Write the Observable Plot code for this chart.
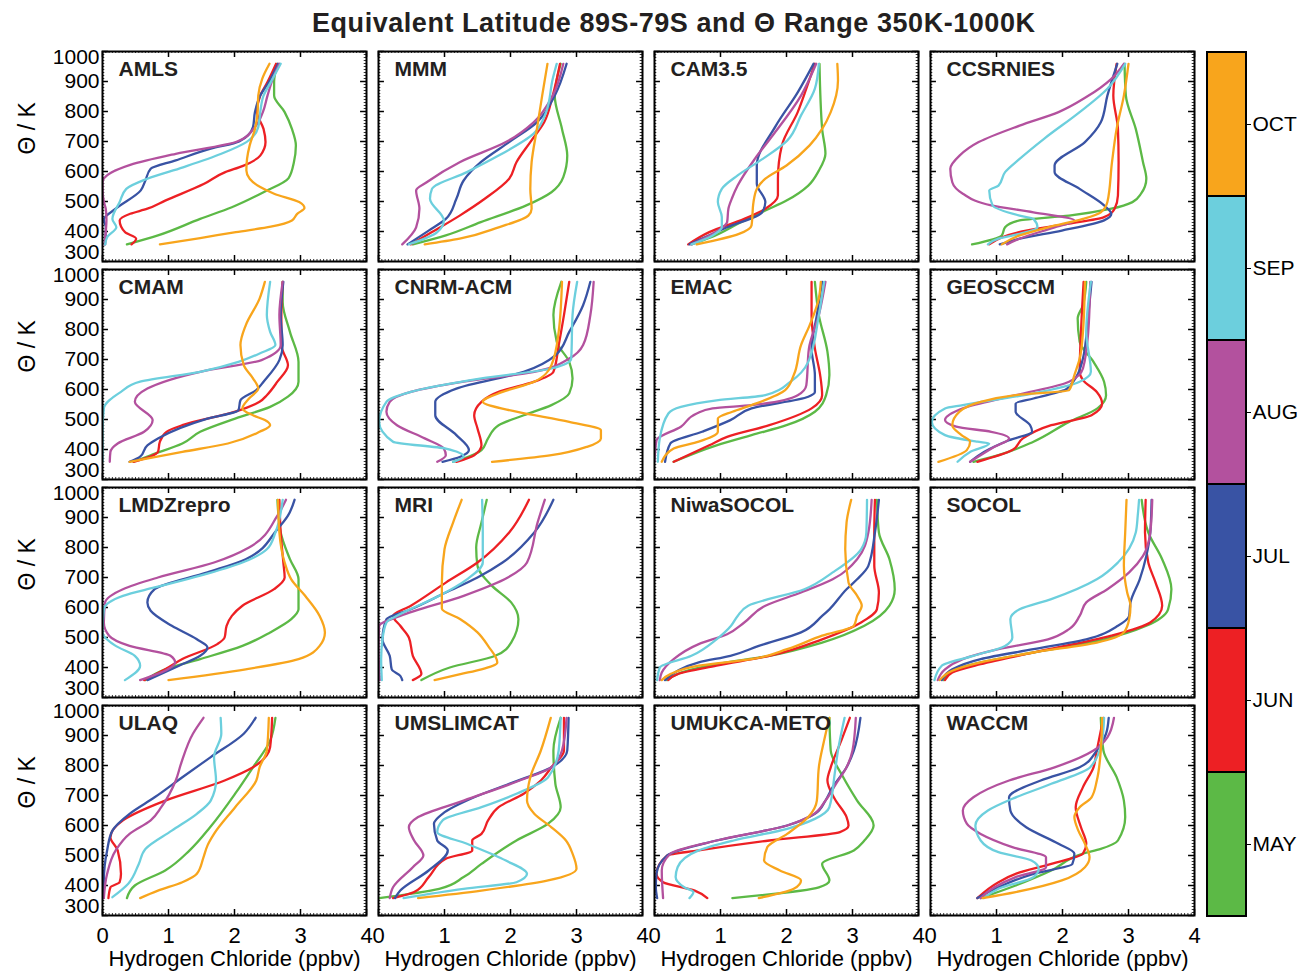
<!DOCTYPE html>
<html><head><meta charset="utf-8">
<script src="https://cdn.jsdelivr.net/npm/d3@7"></script>
<script src="https://cdn.jsdelivr.net/npm/@observablehq/plot@0.6"></script>
<style>
body{margin:0;background:#fff;font-family:"Liberation Sans",Arial,sans-serif;}
#root{position:relative;width:1302px;height:972px;overflow:hidden;background:#fff;}
#title{position:absolute;left:312px;top:8px;white-space:nowrap;font-weight:bold;font-size:27px;color:#231f20;}
.panel{position:absolute;}
</style></head><body><div id="root"><div id="title">Equivalent Latitude 89S-79S and Θ Range 350K-1000K</div></div>
<script>
const months = ["MAY","JUN","JUL","AUG","SEP","OCT"];
const monthColors = ["#5cb946","#ed2024","#3953a4","#b3519e","#6ccfdd","#f8a51c"];
const panelNames = ["AMLS","MMM","CAM3.5","CCSRNIES","CMAM","CNRM-ACM","EMAC","GEOSCCM","LMDZrepro","MRI","NiwaSOCOL","SOCOL","ULAQ","UMSLIMCAT","UMUKCA-METO","WACCM"];
const xTicks = [0,1,2,3,4];
const yTicks = [300,400,500,600,700,800,900,1000];

// each series: [HCl ppbv, theta K]
const AMLS = {
 OCT:[[2.53,959],[2.42,909],[2.36,853],[2.35,798],[2.31,742],[2.23,687],[2.19,642],[2.18,603],[2.23,576],[2.39,548],[2.60,526],[2.98,498],[3.06,478],[2.95,459],[2.87,437],[2.55,416],[2.02,398],[1.48,378],[0.87,357]],
 MAY:[[2.65,959],[2.6,898],[2.6,853],[2.76,798],[2.87,742],[2.93,687],[2.9,631],[2.82,578],[2.44,531],[1.96,481],[1.48,442],[0.84,387],[0.37,357]],
 JUN:[[2.63,959],[2.5,898],[2.39,853],[2.34,798],[2.44,742],[2.47,698],[2.39,653],[2.12,618],[1.86,598],[1.54,559],[0.95,503],[0.68,476],[0.42,459],[0.26,437],[0.34,398],[0.51,376],[0.44,357]],
 JUL:[[2.66,959],[2.52,898],[2.39,853],[2.31,798],[2.28,748],[2.07,700],[1.64,676],[1.11,637],[0.73,609],[0.65,570],[0.58,537],[0.2,476],[0.02,440],[0.05,414],[0.04,357]],
 AUG:[[2.68,959],[2.58,909],[2.5,853],[2.43,798],[2.31,748],[2.04,700],[1.11,659],[0.42,622],[0.0,564],[0.0,540],[0.02,500],[0.05,475],[0.06,440],[0.05,400],[0.03,357]],
 SEP:[[2.7,959],[2.55,898],[2.44,853],[2.39,798],[2.36,748],[2.18,698],[1.8,659],[1.22,614],[0.68,576],[0.36,542],[0.26,498],[0.15,442],[0.21,414],[0.07,381],[0.04,357]]
};
const MMM = {
 OCT:[[2.56,959],[2.48,853],[2.4,742],[2.32,631],[2.3,542],[2.32,476],[2.27,453],[1.82,414],[1.23,376],[0.7,357]],
 MAY:[[2.76,959],[2.67,853],[2.78,742],[2.86,653],[2.8,581],[2.62,531],[2.24,487],[1.55,431],[1.02,387],[0.52,357]],
 JUN:[[2.75,959],[2.64,853],[2.51,764],[2.3,698],[2.09,631],[1.98,576],[1.61,509],[1.23,453],[0.81,398],[0.49,357]],
 JUL:[[2.85,959],[2.67,853],[2.4,764],[1.98,698],[1.55,631],[1.29,570],[1.18,509],[1.02,442],[0.76,403],[0.44,357]],
 AUG:[[2.8,959],[2.64,853],[2.35,764],[1.93,698],[1.23,631],[0.73,564],[0.57,537],[0.62,476],[0.57,414],[0.36,357]],
 SEP:[[2.7,959],[2.64,909],[2.54,798],[2.35,726],[1.82,653],[1.34,598],[0.81,542],[0.78,509],[0.99,437],[0.89,398],[0.46,357]]
};
const CAM35 = {
 OCT:[[2.77,959],[2.78,903],[2.67,798],[2.54,742],[2.35,687],[2.0,620],[1.68,576],[1.55,542],[1.5,498],[1.47,420],[1.28,392],[0.64,357]],
 MAY:[[2.5,959],[2.54,742],[2.59,659],[2.49,603],[2.33,553],[2.0,503],[1.68,470],[1.31,431],[0.86,381],[0.56,357]],
 JUN:[[2.43,959],[2.3,876],[2.17,798],[1.93,687],[1.87,576],[1.87,520],[1.68,476],[1.36,442],[0.83,398],[0.51,357]],
 JUL:[[2.41,959],[2.17,864],[1.84,753],[1.55,620],[1.55,559],[1.68,498],[1.63,464],[1.1,414],[0.53,357]],
 AUG:[[2.45,959],[2.22,853],[1.79,720],[1.52,642],[1.26,553],[1.18,514],[1.12,476],[1.1,431],[0.96,403],[0.56,357]],
 SEP:[[2.49,959],[2.43,876],[2.22,787],[2.01,703],[1.64,642],[1.26,587],[1.02,542],[0.96,498],[1.02,448],[1.02,414],[0.88,387],[0.56,357]]
};
const CCSRNIES = {
 OCT:[[3.0,959],[2.93,853],[2.82,742],[2.75,631],[2.68,498],[2.58,464],[2.31,442],[1.78,414],[1.35,387],[1.08,357]],
 MAY:[[2.94,959],[2.96,853],[3.11,742],[3.22,631],[3.27,576],[3.19,526],[3.06,498],[2.74,476],[2.1,453],[1.35,437],[1.13,414],[1.08,387],[0.63,357]],
 JUN:[[2.82,959],[2.77,853],[2.84,742],[2.85,631],[2.84,520],[2.79,476],[2.63,448],[2.1,426],[1.45,403],[0.89,357]],
 JUL:[[2.83,959],[2.68,853],[2.58,764],[2.34,698],[1.88,620],[1.88,598],[2.26,542],[2.63,487],[2.74,459],[2.63,437],[1.99,403],[1.35,376],[1.05,357]],
 AUG:[[2.93,959],[2.74,909],[2.36,848],[1.94,798],[1.35,753],[0.73,698],[0.44,653],[0.3,609],[0.33,564],[0.49,526],[0.92,487],[1.56,464],[2.18,437],[1.88,414],[1.35,376],[1.16,357]],
 SEP:[[2.95,959],[2.68,876],[2.26,798],[1.72,709],[1.35,642],[1.13,598],[1.03,553],[0.89,537],[0.94,487],[1.35,453],[1.56,442],[1.62,414],[1.35,392],[1.03,376],[0.87,357]]
};
const CMAM = {
 OCT:[[2.46,959],[2.38,903],[2.17,814],[2.09,748],[2.14,681],[2.28,637],[2.36,603],[2.22,570],[2.12,537],[2.28,514],[2.46,498],[2.54,481],[2.38,459],[1.9,420],[1.21,392],[0.41,359]],
 MAY:[[2.73,959],[2.73,892],[2.84,792],[2.97,692],[2.97,626],[2.81,576],[2.54,542],[2.01,503],[1.48,459],[1.21,420],[0.73,381],[0.47,359]],
 JUN:[[2.73,959],[2.71,848],[2.71,748],[2.81,681],[2.65,626],[2.49,581],[2.38,559],[2.01,526],[1.21,481],[0.97,459],[0.87,426],[0.84,392],[0.47,359]],
 JUL:[[2.74,959],[2.7,848],[2.73,748],[2.68,698],[2.44,626],[2.33,598],[2.09,564],[2.06,531],[1.59,503],[0.84,437],[0.68,414],[0.57,376],[0.41,359]],
 AUG:[[2.73,959],[2.68,848],[2.7,748],[2.41,698],[1.48,659],[0.68,603],[0.49,559],[0.76,498],[0.63,459],[0.23,420],[0.12,392],[0.11,359]],
 SEP:[[2.54,959],[2.49,848],[2.54,792],[2.62,748],[2.38,720],[2.06,692],[1.48,659],[0.57,626],[0.28,592],[0.02,537],[0.0,459],[0.0,359]]
};
const CNRM_ACM = {
 OCT:[[2.78,959],[2.73,792],[2.62,681],[2.36,626],[1.88,592],[1.58,559],[2.09,526],[2.89,492],[3.37,464],[3.37,437],[3.16,409],[2.62,381],[1.72,359]],
 MAY:[[2.77,959],[2.65,848],[2.7,759],[2.89,692],[2.94,637],[2.89,587],[2.62,548],[2.2,514],[1.82,481],[1.66,437],[1.56,398],[1.29,370],[1.13,359]],
 JUN:[[2.89,959],[2.81,848],[2.73,748],[2.65,659],[2.36,626],[1.82,592],[1.56,559],[1.45,514],[1.5,470],[1.56,414],[1.45,381],[1.18,359]],
 JUL:[[3.21,959],[3.1,881],[2.89,792],[2.68,714],[2.2,659],[1.18,603],[0.86,559],[0.86,514],[1.18,448],[1.37,398],[1.24,376],[0.97,359]],
 AUG:[[3.26,959],[3.21,848],[3.1,748],[2.89,703],[2.36,659],[1.29,626],[0.49,592],[0.17,559],[0.12,526],[0.28,481],[0.7,437],[0.99,403],[1.02,381],[0.89,359]],
 SEP:[[3.01,959],[2.94,848],[2.92,703],[2.62,670],[1.56,637],[0.49,592],[0.12,559],[0.01,492],[0.22,426],[1.02,403],[1.29,376],[1.13,359]]
};
const EMAC = {
 OCT:[[2.52,959],[2.49,903],[2.35,814],[2.22,748],[2.11,648],[1.98,598],[1.47,548],[1.18,526],[0.96,503],[0.96,459],[0.67,426],[0.29,403],[0.11,359]],
 MAY:[[2.43,959],[2.49,848],[2.62,726],[2.65,648],[2.6,581],[2.43,526],[2.0,481],[1.47,448],[0.94,414],[0.29,359]],
 JUN:[[2.38,959],[2.38,848],[2.43,737],[2.51,648],[2.54,581],[2.38,537],[1.74,481],[1.1,442],[0.83,414],[0.29,359]],
 JUL:[[2.54,959],[2.46,848],[2.38,737],[2.43,648],[2.43,592],[2.33,576],[1.47,537],[1.15,498],[0.72,459],[0.24,420],[0.16,359]],
 AUG:[[2.59,959],[2.49,848],[2.34,737],[2.3,614],[2.17,581],[1.47,548],[0.88,537],[0.64,520],[0.4,476],[0.03,431],[0.0,359]],
 SEP:[[2.57,959],[2.49,848],[2.33,692],[2.06,626],[1.68,581],[0.94,564],[0.4,542],[0.21,520],[0.08,437],[0.05,359]]
};
const GEOSCCM = {
 OCT:[[2.34,959],[2.31,792],[2.26,703],[2.18,648],[2.1,598],[1.29,581],[0.76,559],[0.44,526],[0.33,481],[0.47,448],[0.6,426],[0.55,398],[0.12,359]],
 MAY:[[2.36,959],[2.31,881],[2.23,837],[2.26,759],[2.47,692],[2.63,626],[2.66,581],[2.53,537],[2.1,492],[1.56,426],[1.03,381],[0.65,359]],
 JUN:[[2.32,959],[2.28,792],[2.26,659],[2.31,631],[2.52,592],[2.6,553],[2.44,514],[1.83,481],[1.4,437],[1.24,398],[0.71,359]],
 JUL:[[2.44,959],[2.39,848],[2.31,703],[2.07,603],[1.56,570],[1.29,553],[1.29,526],[1.51,481],[1.54,459],[1.19,431],[0.81,392],[0.6,359]],
 AUG:[[2.42,959],[2.39,792],[2.31,670],[2.1,626],[1.29,581],[0.49,537],[0.22,498],[0.39,476],[0.92,459],[1.19,437],[0.97,409],[0.6,359]],
 SEP:[[2.43,959],[2.36,792],[2.43,659],[2.26,626],[1.56,587],[0.49,548],[0.22,537],[0.02,492],[0.22,448],[0.71,426],[0.89,420],[0.6,392],[0.41,359]]
};
const LMDZrepro = {
 OCT:[[2.66,959],[2.68,850],[2.76,750],[2.86,694],[3.07,639],[3.29,572],[3.37,517],[3.29,472],[2.97,428],[2.17,394],[1.0,358]],
 MAY:[[2.65,959],[2.7,850],[2.84,761],[2.97,694],[2.97,594],[2.86,561],[2.54,517],[2.12,472],[1.48,428],[0.95,394],[0.65,358]],
 JUN:[[2.68,959],[2.7,850],[2.74,750],[2.76,700],[2.6,661],[2.12,606],[1.96,572],[1.88,539],[1.85,500],[1.74,478],[1.21,428],[0.95,394],[0.63,358]],
 JUL:[[2.91,959],[2.81,906],[2.65,861],[2.17,761],[1.59,717],[0.79,661],[0.68,617],[0.73,589],[1.05,539],[1.43,494],[1.59,467],[1.48,439],[1.16,406],[0.68,358]],
 AUG:[[2.78,959],[2.65,906],[2.22,800],[1.69,750],[0.84,700],[0.31,661],[0.04,617],[0.02,550],[0.1,506],[0.41,472],[1.03,439],[1.1,417],[0.99,394],[0.57,358]],
 SEP:[[2.73,959],[2.62,850],[2.49,794],[2.12,750],[1.48,706],[0.79,667],[0.31,639],[0.02,594],[0.0,517],[0.2,472],[0.49,439],[0.57,406],[0.34,358]]
};
const MRI = {
 OCT:[[1.26,959],[1.13,883],[1.0,794],[0.96,683],[0.96,597],[1.24,561],[1.5,517],[1.66,472],[1.8,417],[1.56,394],[1.24,378],[0.85,358]],
 MAY:[[1.64,959],[1.56,883],[1.48,800],[1.5,739],[1.72,672],[2.01,617],[2.12,561],[2.01,483],[1.77,439],[1.08,400],[0.65,358]],
 JUN:[[2.28,959],[1.98,850],[1.5,750],[1.02,683],[0.49,606],[0.22,572],[0.33,539],[0.46,500],[0.52,439],[0.65,378],[0.52,358]],
 JUL:[[2.65,959],[2.36,850],[1.88,750],[1.5,700],[1.02,650],[0.49,594],[0.12,561],[0.06,494],[0.17,439],[0.2,394],[0.33,372],[0.36,358]],
 AUG:[[2.52,959],[2.41,883],[2.25,750],[1.96,700],[1.29,639],[0.33,572],[0.01,539],[0.0,461],[0.02,358]],
 SEP:[[1.57,959],[1.58,850],[1.58,750],[1.34,694],[0.92,639],[0.33,578],[0.12,550],[0.06,494],[0.04,428],[0.05,358]]
};
const NiwaSOCOL = {
 OCT:[[2.98,959],[2.91,883],[2.89,794],[2.94,683],[3.07,639],[3.14,606],[3.07,572],[3.02,539],[2.54,506],[2.01,461],[1.47,428],[0.67,406],[0.24,378],[0.11,358]],
 MAY:[[3.37,959],[3.4,850],[3.56,761],[3.64,661],[3.56,606],[3.18,539],[2.54,483],[1.74,439],[0.94,411],[0.4,383],[0.19,358]],
 JUN:[[3.34,959],[3.33,850],[3.33,739],[3.4,650],[3.37,594],[3.13,550],[2.54,494],[1.74,439],[0.94,406],[0.35,378],[0.21,358]],
 JUL:[[3.4,959],[3.34,850],[3.24,739],[3.07,694],[2.91,661],[2.65,594],[2.54,572],[2.22,517],[1.58,472],[1.15,439],[0.67,417],[0.35,389],[0.16,358]],
 AUG:[[3.29,959],[3.24,850],[3.07,761],[2.7,694],[2.22,650],[1.68,606],[1.36,550],[1.1,511],[0.67,478],[0.29,428],[0.11,383],[0.08,358]],
 SEP:[[3.22,959],[3.21,850],[3.13,794],[2.7,717],[2.27,661],[1.42,606],[1.26,572],[1.16,539],[0.94,494],[0.56,439],[0.08,400],[0.04,358]]
};
const SOCOL = {
 OCT:[[2.97,959],[2.95,850],[2.93,739],[2.98,650],[3.03,606],[3.01,561],[2.93,517],[2.52,483],[1.56,450],[0.76,417],[0.33,389],[0.14,358]],
 MAY:[[3.2,959],[3.3,850],[3.51,761],[3.65,661],[3.6,594],[3.27,539],[2.63,494],[1.56,450],[0.76,417],[0.28,383],[0.2,358]],
 JUN:[[3.26,959],[3.25,850],[3.3,750],[3.41,683],[3.51,606],[3.33,550],[2.74,506],[1.56,450],[0.76,411],[0.33,383],[0.22,358]],
 JUL:[[3.35,959],[3.33,850],[3.27,772],[3.17,694],[3.03,617],[3.01,572],[2.84,539],[2.36,494],[1.56,461],[0.76,428],[0.33,394],[0.17,358]],
 AUG:[[3.36,959],[3.33,850],[3.22,772],[3.01,717],[2.68,661],[2.36,617],[2.26,572],[2.1,528],[1.78,494],[1.03,461],[0.49,428],[0.22,394],[0.11,358]],
 SEP:[[3.16,959],[3.14,906],[3.11,850],[2.84,750],[2.52,694],[1.83,628],[1.35,594],[1.21,561],[1.24,500],[1.13,472],[0.65,439],[0.17,406],[0.06,358]]
};
const ULAQ = {
 OCT:[[2.52,959],[2.49,850],[2.38,794],[2.33,750],[2.01,661],[1.69,572],[1.59,533],[1.53,494],[1.43,439],[1.21,411],[0.84,383],[0.57,358]],
 MAY:[[2.62,959],[2.54,883],[2.28,794],[2.01,706],[1.63,594],[1.32,517],[0.95,450],[0.49,400],[0.37,358]],
 JUN:[[2.57,959],[2.54,861],[2.28,794],[1.85,750],[0.95,683],[0.31,617],[0.12,561],[0.23,517],[0.28,439],[0.26,411],[0.12,394],[0.09,358]],
 JUL:[[2.32,959],[2.14,906],[1.64,828],[1.21,761],[0.79,694],[0.41,639],[0.15,583],[0.07,517],[0.02,417],[0.02,358]],
 AUG:[[1.53,959],[1.37,906],[1.19,806],[1.11,750],[0.89,661],[0.73,617],[0.41,572],[0.2,517],[0.07,439],[0.02,358]],
 SEP:[[1.79,959],[1.8,906],[1.69,828],[1.72,750],[1.64,683],[1.43,639],[1.05,583],[0.65,522],[0.55,472],[0.39,406],[0.15,361]]
};
const UMSLIMCAT = {
 OCT:[[2.61,959],[2.46,850],[2.3,761],[2.25,683],[2.36,639],[2.62,594],[2.84,550],[2.94,506],[3.0,456],[2.57,417],[1.56,383],[0.6,358]],
 MAY:[[2.76,959],[2.65,850],[2.68,739],[2.76,661],[2.57,606],[2.09,550],[1.56,472],[1.29,428],[0.92,389],[0.01,358]],
 JUN:[[2.81,959],[2.81,850],[2.62,794],[2.46,750],[2.2,706],[1.82,661],[1.66,617],[1.56,572],[1.42,550],[1.42,517],[1.02,489],[0.76,428],[0.54,378],[0.22,358]],
 JUL:[[2.88,959],[2.86,850],[2.62,794],[1.98,739],[1.45,694],[0.97,639],[0.84,606],[0.89,550],[1.05,517],[0.76,450],[0.33,383],[0.25,358]],
 AUG:[[2.85,959],[2.78,850],[2.62,794],[2.14,750],[1.29,683],[0.6,628],[0.46,594],[0.54,550],[0.68,500],[0.52,461],[0.22,394],[0.17,358]],
 SEP:[[2.76,959],[2.73,850],[2.57,761],[2.09,706],[1.56,661],[0.97,617],[0.89,578],[1.34,539],[1.93,483],[2.25,439],[2.09,411],[1.29,389],[0.38,358]]
};
const UMUKCA_METO = {
 OCT:[[2.65,959],[2.57,883],[2.49,794],[2.46,683],[2.33,628],[2.01,572],[1.71,528],[1.66,483],[1.9,450],[2.22,417],[2.11,389],[1.58,358]],
 MAY:[[2.65,959],[2.67,850],[2.86,761],[3.07,683],[3.32,600],[3.18,550],[3.02,517],[2.54,472],[2.65,417],[2.49,394],[1.18,358]],
 JUN:[[2.96,959],[2.83,883],[2.67,794],[2.62,750],[2.73,689],[2.91,628],[2.94,600],[2.81,578],[1.74,550],[0.67,517],[0.19,500],[0.03,439],[0.13,411],[0.61,383],[0.8,358]],
 JUL:[[3.12,959],[3.02,850],[2.91,794],[2.7,728],[2.59,683],[2.43,639],[2.01,600],[0.94,550],[0.19,500],[0.03,439],[0.02,394],[0.04,358]],
 AUG:[[3.05,959],[3.0,850],[2.91,794],[2.75,739],[2.59,683],[2.38,633],[2.01,600],[0.94,550],[0.24,506],[0.11,450],[0.13,358]],
 SEP:[[2.88,959],[2.78,850],[2.73,772],[2.65,661],[2.43,622],[2.01,589],[1.2,550],[0.67,517],[0.35,461],[0.32,428],[0.45,394],[0.59,378],[0.53,358]]
};
const WACCM = {
 OCT:[[2.6,959],[2.58,850],[2.52,750],[2.44,694],[2.26,661],[2.18,628],[2.24,583],[2.34,539],[2.41,494],[2.34,461],[1.99,417],[1.29,378],[0.79,358]],
 MAY:[[2.58,959],[2.62,850],[2.82,761],[2.93,683],[2.95,628],[2.84,550],[2.58,522],[2.31,506],[1.83,450],[1.29,400],[0.76,358]],
 JUN:[[2.62,959],[2.52,850],[2.47,794],[2.31,728],[2.2,661],[2.28,594],[2.36,539],[2.31,506],[1.83,472],[1.29,439],[1.03,411],[0.71,358]],
 JUL:[[2.7,959],[2.66,906],[2.52,850],[2.26,794],[1.67,750],[1.19,694],[1.21,650],[1.45,594],[1.94,539],[2.18,506],[2.15,472],[1.56,439],[1.03,394],[0.71,358]],
 AUG:[[2.78,959],[2.68,894],[2.47,850],[1.88,794],[1.19,750],[0.65,694],[0.49,650],[0.55,606],[0.76,572],[1.24,528],[1.75,494],[1.75,461],[1.29,428],[0.97,394],[0.76,358]],
 SEP:[[2.63,959],[2.6,883],[2.42,794],[1.83,739],[1.24,689],[0.87,650],[0.68,600],[0.76,550],[1.03,511],[1.53,483],[1.64,456],[1.56,428],[1.03,389],[0.81,358]]
};

const panelData = [AMLS, MMM, CAM35, CCSRNIES, CMAM, CNRM_ACM, EMAC, GEOSCCM, LMDZrepro, MRI, NiwaSOCOL, SOCOL, ULAQ, UMSLIMCAT, UMUKCA_METO, WACCM];

const root = document.getElementById("root");
const FONT = "'Liberation Sans', Arial, Helvetica, sans-serif";
const W = 264, H = 210;
const colX = [102, 378, 654, 930];
const rowY = [51, 269, 487, 705];
const minorX = d3.range(0, 4.0001, 0.05);
const minorY = d3.range(300, 1000.001, 10);
const baseStyle = {fontFamily: FONT, fontSize: "22px", background: "transparent", overflow: "visible", color: "#000"};
const fmt = d => String(d);

panelNames.forEach((name, i) => {
  const col = i % 4, row = Math.floor(i / 4);
  const ml = col === 0 ? 102 : 2, mb = row === 3 ? 57 : 2, mt = 2, mr = 4;
  const rows = [];
  months.forEach(m => {
    panelData[i][m].slice().sort((a, b) => a[1] - b[1]).forEach(([v, t]) => rows.push({month: m, v, t}));
  });
  const tick = {stroke: "#000", strokeWidth: 0.8};
  const major = {stroke: "#000", strokeWidth: 1.5};
  const marks = [
    Plot.ruleX(minorX, {y1: 300, y2: 306.7, ...tick}),
    Plot.ruleX(minorX, {y1: 1000, y2: 993.3, ...tick}),
    Plot.ruleY(minorY, {x1: 0, x2: 0.035, ...tick}),
    Plot.ruleY(minorY, {x1: 4, x2: 3.965, ...tick}),
    Plot.ruleX(xTicks, {y1: 300, y2: 320, ...major}),
    Plot.ruleX(xTicks, {y1: 1000, y2: 980, ...major}),
    Plot.ruleY(yTicks, {x1: 0, x2: 0.09, ...major}),
    Plot.ruleY(yTicks, {x1: 4, x2: 3.91, ...major}),
    Plot.line(rows, {x: "v", y: "t", z: "month", stroke: "month", strokeWidth: 2.3, curve: "monotone-y", clip: true}),
    Plot.text([name], {frameAnchor: "top-left", dx: 16, dy: 10, lineAnchor: "top", textAnchor: "start", fontWeight: "bold", fontSize: 21, fill: "#231f20"}),
    Plot.frame({stroke: "#000", strokeWidth: 2})
  ];
  if (col === 0) {
    marks.push(
      Plot.axisY(yTicks.filter(t => t > 300 && t < 1000), {tickSize: 0, tickPadding: 3, tickFormat: fmt, label: null, fontSize: 21}),
      Plot.axisY([1000], {tickSize: 0, tickPadding: 3, tickFormat: fmt, dy: 6, label: null, fontSize: 21}),
      Plot.axisY([300], {tickSize: 0, tickPadding: 3, tickFormat: fmt, dy: -9, label: null, fontSize: 21}),
      Plot.text(["Θ / K"], {frameAnchor: "left", dx: -75, dy: -2, rotate: -90, fontSize: 23})
    );
  }
  if (row === 3) {
    marks.push(
      Plot.axisX(xTicks, {tickSize: 0, tickPadding: 12, tickFormat: fmt, label: null}),
      Plot.text(["Hydrogen Chloride (ppbv)"], {frameAnchor: "bottom", dy: 50, fontSize: 22})
    );
  }
  const svg = Plot.plot({
    width: W + ml + mr, height: H + mt + mb,
    marginLeft: ml, marginRight: mr, marginTop: mt, marginBottom: mb,
    x: row === 3 ? {domain: [0, 4]} : {domain: [0, 4], axis: null},
    y: col === 0 ? {domain: [300, 1000]} : {domain: [300, 1000], axis: null},
    color: {domain: months, range: monthColors},
    style: baseStyle,
    marks
  });
  const div = document.createElement("div");
  div.className = "panel";
  div.style.left = (colX[col] - ml) + "px";
  div.style.top = (rowY[row] - mt) + "px";
  div.style.width = (W + ml + mr) + "px";
  div.appendChild(svg);
  root.appendChild(div);
});

// colour bar
const cbW = 39, cbH = 864;
const cb = Plot.plot({
  width: cbW + 2 + 60, height: cbH + 4,
  marginLeft: 2, marginRight: 60, marginTop: 2, marginBottom: 2,
  y: {domain: months.slice().reverse(), padding: 0},
  color: {domain: months, range: monthColors},
  style: {...baseStyle, fontSize: "21px"},
  marks: [
    Plot.cell(months, {y: d => d, fill: d => d, stroke: "#000", strokeWidth: 2}),
    Plot.axisY({anchor: "right", tickSize: 4, tickPadding: 2, label: null})
  ]
});
const cbDiv = document.createElement("div");
cbDiv.className = "panel";
cbDiv.style.left = (1207 - 2) + "px";
cbDiv.style.top = (52 - 2) + "px";
cbDiv.style.width = (cbW + 64) + "px";
cbDiv.appendChild(cb);
root.appendChild(cbDiv);

// title letter spacing to match reference width
const title = document.getElementById("title");
const natural = title.getBoundingClientRect().width;
const n = title.textContent.length;
title.style.letterSpacing = ((723 - natural) / (n - 1)) + "px";
</script></body></html>
